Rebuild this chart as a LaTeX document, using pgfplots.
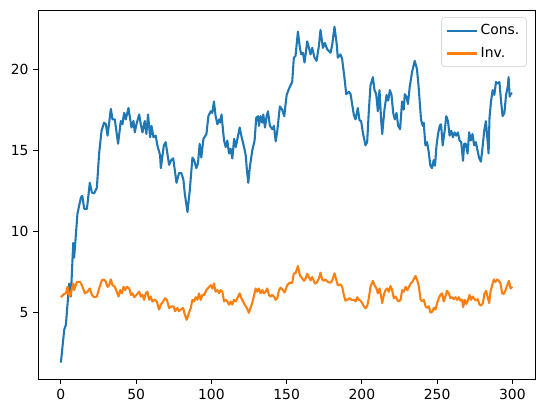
\documentclass[border=0pt]{standalone}
\usepackage{fontspec}
\setmainfont{DejaVu Sans}
\usepackage{pgfplots}
\pgfplotsset{compat=1.18}
\definecolor{mplblue}{HTML}{1F77B4}
\definecolor{mplorange}{HTML}{FF7F0E}
\begin{document}
\begin{tikzpicture}
\begin{axis}[
  scale only axis,
  width=357.6pt, height=265.7pt,
  xmin=-15, xmax=315, ymin=0.93, ymax=23.63,
  xtick={0,50,100,150,200,250,300},
  ytick={5,10,15,20},
  tick align=outside,
  tick pos=left,
  major tick length=3.5pt,
  tick style={black, line width=0.6pt},
  axis line style={line width=0.6pt},
  /pgf/number format/assume math mode=true,
  ticklabel style={font=\fontsize{10}{12}\selectfont},
  legend cell align=left,
  legend style={at={(rel axis cs:1,1)}, anchor=north east, xshift=-6pt, yshift=-5.3pt,
    draw=black!20, rounded corners=2pt, fill=white, fill opacity=0.8, text opacity=1,
    font=\fontsize{10}{12}\selectfont, inner xsep=3pt, inner ysep=3pt, row sep=3.5pt},
  legend image code/.code={\draw[#1] (0pt,0pt) -- (21.6pt,0pt);},
]
\coordinate (bl) at (rel axis cs:0,0);
\coordinate (tr) at (rel axis cs:1,1);
\addplot[mplblue, line width=1.5pt, line join=round] coordinates {
(0,1.94) (2.2,3.96) (3.3,4.26) (5.5,6.8) (6.6,6.0) (8.2,9.3) (8.8,8.4) (11,11.1) (13.3,12.1) (14.2,12.2)
(15.5,11.4) (17.3,11.4) (19.2,13.0) (20.6,12.4) (22.1,12.35) (23.9,12.7) (25.4,14.8) (27,16.2) (28.7,16.7) (29.9,16.6)
(31,15.9) (33.2,17.55) (34.3,16.9) (35.8,16.9) (38,15.4) (39.8,16.8) (40.9,16.6) (42,17.3) (43.1,16.9) (44.9,17.6)
(46.9,16.4) (48.2,16.8) (49.1,16.1) (50.2,16.6) (52,17.2) (53.1,16.6) (54.2,16.1) (55.7,16.8) (56.8,16.0) (57.9,17.2)
(59.3,15.8) (60.2,16.5) (61.5,15.8) (63,15.9) (64.1,15.3) (65.9,14.7) (66.4,13.9) (68.4,15.3) (69.6,15.5) (71.9,14.1)
(73.3,14.4) (74.6,14.5) (75.5,13.9) (76.8,13.0) (78.5,13.6) (80,13.6) (81.4,13.2) (82.3,12.35) (84.1,11.2) (85.6,12.5)
(87.4,14.55) (88.5,14.4) (90,13.9) (91.1,14.2) (92.2,15.4) (93.3,14.55) (94.7,15.7) (96.7,16.0) (98,17.1) (99.5,17.4)
(100.6,17.3) (101.7,18.0) (102.8,17.1) (104,16.6) (105.1,16.9) (105.8,16.7) (106.7,17.2) (108.4,15.6) (109.5,15.2) (110.6,15.6)
(111.7,14.8) (112.8,15.1) (113.9,14.5) (115.1,15.7) (116.2,15.2) (117.3,15.7) (118.8,16.4) (120.1,15.8) (121.7,15.2) (122.8,14.7)
(123.5,13.9) (124.5,13.0) (125.6,14.0) (127.2,15.0) (128.7,15.6) (129.8,17.0) (131,17.1) (131.6,16.5) (132.7,17.1) (133.8,16.7)
(134.5,17.2) (135.6,16.4) (136.7,17.1) (137.6,17.4) (138.9,16.5) (140.5,16.3) (141.6,16.5) (142.7,15.55) (143.8,16.2) (145.5,17.7)
(147,17.5) (148.4,17.1) (150,18.4) (151.6,18.8) (153.7,19.2) (154.8,20.7) (155.9,20.8) (157.5,22.3) (158.8,21.3) (159.7,20.9)
(160.8,21.0) (161.9,20.4) (163.7,21.7) (164.8,21.3) (165.9,20.9) (167,21.3) (168.5,20.7) (169.9,20.5) (171.4,21.4) (172.5,22.4)
(174.1,21.3) (175.4,21.6) (177,21.2) (179.2,21.0) (180.3,21.5) (181.8,22.6) (183.2,21.6) (184,20.7) (185.8,20.9) (186.9,20.6)
(188.5,19.4) (189.6,18.45) (191.4,18.6) (192.5,18.45) (193.5,17.85) (194.7,17.15) (195.8,16.9) (197.3,17.6) (198.4,16.85) (199.5,16.8)
(200.8,16.0) (202.4,15.3) (203.5,15.5) (204.6,17.4) (205.7,18.96) (207.3,19.5) (208.4,18.7) (209.5,18.45) (210.6,17.4) (211.7,18.7)
(212.8,16.85) (213.5,16.0) (215,17.5) (216.4,18.4) (217.5,18.05) (218.6,18.7) (219.7,18.4) (220.8,17.3) (221.9,16.9) (223,17.3)
(224.1,16.5) (225.4,16.3) (226.7,18.0) (227.8,17.5) (228.5,18.45) (229.6,18.3) (230.6,17.85) (231.8,18.9) (233.3,19.8) (235.1,20.5)
(236.6,20.0) (237.7,18.9) (239.3,16.9) (240.4,16.5) (241.1,16.7) (242.2,15.3) (243.3,15.5) (244.4,14.9) (245.5,14.05) (246.6,13.9)
(247.7,14.4) (248.6,14.05) (249.5,15.2) (250.6,16.0) (251.7,16.5) (252.6,16.6) (253.7,15.3) (255,16.2) (256.1,17.1) (257.2,16.8)
(258.3,15.9) (259.4,16.2) (260.5,15.8) (261.6,16.1) (262.7,15.9) (263.8,16.1) (264.9,15.6) (266,15.5) (267.2,14.35) (268,15.4)
(269.1,15.4) (270.2,14.8) (271.3,16.1) (272.4,15.6) (273.5,16.0) (274.6,15.3) (275.7,15.5) (276.8,15.0) (278,14.5) (279.1,14.3)
(280.2,15.2) (281.3,16.2) (282.4,16.8) (283.5,15.6) (284.2,14.8) (284.8,17.0) (285.8,18.0) (286.9,18.7) (288,18.4) (289.1,19.2)
(290.2,19.1) (291.4,19.2) (292.5,18.0) (293.5,17.1) (294.7,17.3) (295.8,18.4) (296.9,18.9) (297.5,19.5) (298.2,18.3) (299.1,18.5)
(300,18.5)
};
\addlegendentry{Cons.}
\addplot[mplorange, line width=1.5pt, line join=round] coordinates {
(0,5.96) (2.2,6.16) (3.3,6.2) (4.4,6.6) (5.5,6.1) (6.2,6.0) (7.1,6.4) (8.2,6.8) (8.8,6.4) (10.6,6.9)
(12.8,6.9) (14.4,6.6) (15.9,6.2) (17.7,6.3) (19.2,6.5) (20.6,6.1) (22.1,5.96) (23.9,6.0) (25.4,6.5) (27.2,7.0)
(28.7,7.05) (29.9,6.9) (31,6.6) (32.1,6.7) (33.2,7.06) (34.3,6.7) (35.8,6.6) (37.2,6.3) (38.3,6.0) (39.4,6.4)
(40.5,6.2) (41.6,6.6) (42.7,6.4) (43.8,6.6) (45.4,6.5) (46.5,6.1) (47.6,6.2) (48.7,5.96) (50.2,6.1) (52,6.3)
(53.1,6.0) (54.2,6.1) (55.3,5.8) (56.4,6.2) (57.5,6.3) (58.6,5.8) (59.7,6.0) (60.8,5.7) (62.4,5.8) (63.7,5.7)
(65.2,5.2) (66.4,5.5) (67.9,5.7) (69.3,5.9) (70.4,5.8) (71.9,5.3) (73.5,5.4) (74.8,5.4) (75.9,5.1) (77.4,5.3)
(78.5,5.1) (79.6,5.2) (81.2,5.3) (82.3,4.9) (83.6,4.57) (84.7,4.9) (86.3,5.3) (87.4,5.8) (88.5,5.7) (89.6,5.96)
(90.7,5.8) (91.8,6.2) (92.9,5.8) (94,6.1) (95.1,6.1) (96.7,6.4) (98.5,6.6) (99.6,6.7) (100.7,6.5) (101.7,6.8)
(102.8,6.3) (104,6.4) (105.1,6.2) (106.2,6.4) (107.3,6.3) (108.4,5.7) (109.5,5.8) (110.6,5.7) (111.7,5.5) (112.8,5.7)
(113.9,5.5) (115,5.8) (116.2,5.7) (117.3,5.9) (118.8,6.2) (119.9,5.9) (121,5.7) (122.2,5.5) (123.5,5.3) (124.9,5.0)
(126,5.3) (127.1,5.6) (128.2,6.0) (129.4,6.5) (130.5,6.3) (131.6,6.5) (132.7,6.2) (133.8,6.4) (134.9,6.2) (136,6.3)
(137.1,6.5) (138.2,6.1) (139.3,6.0) (140.4,6.1) (141.6,6.0) (142.7,5.8) (143.8,5.9) (144.9,6.4) (146,6.55) (147.5,6.4)
(148.6,6.25) (150.4,6.7) (151.9,6.85) (153.7,6.85) (154.8,7.43) (155.9,7.43) (157.5,7.88) (158.8,7.3) (159.7,7.2) (161.5,6.97)
(162.6,7.1) (163.7,7.4) (164.8,7.2) (165.9,7.0) (167,7.2) (168.8,6.8) (169.9,6.85) (171.4,7.1) (172.5,7.47) (173.6,7.05)
(174.7,6.97) (175.8,7.05) (177.4,6.9) (179.2,6.85) (180.3,7.0) (181.8,7.43) (182.9,7.05) (184,6.7) (185.8,6.75) (186.9,6.6)
(188,6.1) (189.1,5.75) (190.2,5.8) (191.8,5.9) (193.1,5.8) (194.7,5.8) (195.8,5.7) (196.9,5.96) (198,5.8) (199.1,5.75)
(200.2,5.6) (201.3,5.4) (202.4,5.28) (203.5,5.4) (204.6,5.9) (205.7,6.6) (207.3,6.97) (208.4,6.7) (209.7,6.5) (210.6,6.2)
(211.7,6.5) (212.8,6.0) (213.5,5.6) (214.6,6.1) (215.7,6.4) (216.8,6.5) (217.9,6.3) (219,6.65) (220.1,6.4) (221.2,5.9)
(222.4,6.0) (223.5,5.8) (224.6,5.7) (225.7,5.8) (226.8,6.4) (227.9,6.3) (229,6.6) (230.2,6.4) (231.3,6.6) (232.4,6.8)
(233.5,6.9) (234.6,7.1) (235.6,7.27) (236.8,7.0) (237.9,6.6) (239,5.8) (240.1,5.7) (241.2,5.8) (242.3,5.4) (243.4,5.3)
(244.5,5.4) (245.5,5.02) (246.7,5.06) (247.8,5.3) (248.9,5.2) (250,5.6) (251.1,5.9) (252.2,6.1) (253.3,6.2) (254.4,5.7)
(255.5,6.0) (256.6,6.35) (257.7,6.2) (258.8,5.9) (260,5.96) (261.1,5.84) (262.2,5.96) (263.3,5.8) (264.4,5.96) (265.5,5.75)
(266.6,5.8) (267.3,5.35) (268.4,5.8) (269.5,5.55) (270.6,5.8) (271.5,6.1) (272.6,5.8) (273.7,6.0) (274.8,5.84) (275.9,5.75)
(277,5.84) (278.2,5.5) (279.3,5.45) (280.4,5.6) (281.5,6.2) (282.6,6.35) (283.7,5.9) (284.6,5.6) (285.5,6.3) (286.6,6.7)
(287.7,7.05) (288.8,6.9) (289.9,7.05) (291,6.97) (292.1,6.8) (293.2,6.2) (294.4,6.16) (295.5,6.4) (296.6,6.7) (297.7,6.97)
(298.8,6.5) (300,6.6)
};
\addlegendentry{Inv.}
\end{axis}
\path (bl) ++(-27.6pt,-24.5pt) coordinate (BL);
\path (tr) ++(5.8pt,7.2pt) coordinate (TR);
\useasboundingbox (BL) rectangle (TR);
\end{tikzpicture}
\end{document}
